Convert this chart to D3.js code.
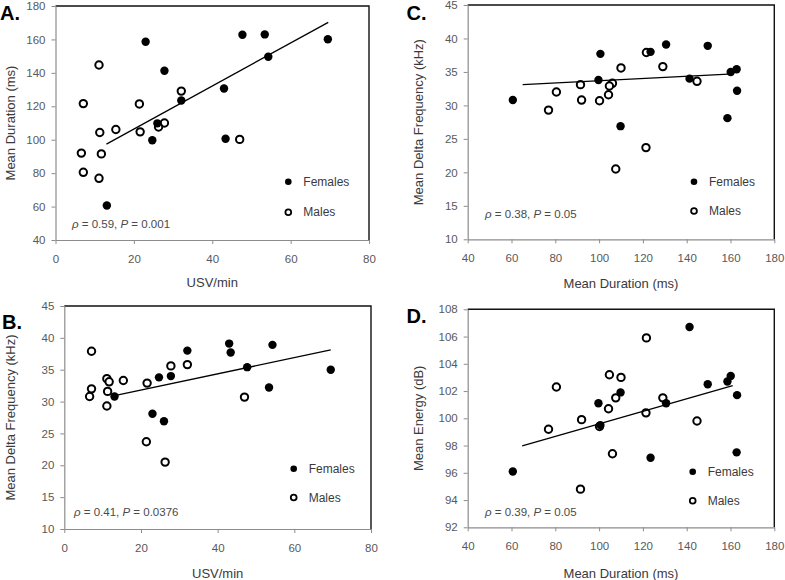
<!DOCTYPE html>
<html>
<head>
<meta charset="utf-8">
<script src="https://cdn.jsdelivr.net/npm/d3@7"></script>
<style>
  body { margin: 0; background: #fff; }
  svg { display: block; font-family: Arial, "Liberation Sans", sans-serif; }
</style>
</head>
<body>
<svg id="chart" width="785" height="580"></svg>
<script>
// ---- Data (one entry per animal) ----
const femaleUSV       = [23.0, 27.8, 32.1, 26.0, 24.7, 13.1, 43.0, 43.4, 47.7, 53.4, 54.3, 69.5];
const femaleDuration  = [158.6, 141.3, 123.5, 109.8, 99.7, 60.6, 130.6, 100.6, 162.8, 163.0, 149.6, 160.1];
const femaleDeltaFreq = [28.1, 34.0, 38.0, 26.9, 33.8, 30.8, 39.1, 37.7, 35.4, 32.2, 38.9, 35.0];
const femaleEnergy    = [102.7, 106.7, 97.1, 101.9, 101.1, 96.1, 101.1, 99.5, 97.5, 101.7, 102.5, 103.1];

const maleUSV       = [11.1, 7.1, 21.4, 32.1, 15.4, 11.3, 21.6, 27.8, 26.3, 6.6, 11.7, 7.1, 11.1, 47.0];
const maleDuration  = [144.7, 121.6, 121.4, 129.1, 106.1, 104.3, 104.7, 110.0, 107.6, 92.0, 91.5, 80.5, 76.9, 100.2];
const maleDeltaFreq = [33.6, 37.9, 23.7, 35.8, 33.3, 31.6, 32.9, 35.6, 20.5, 30.8, 33.1, 32.0, 29.3, 30.7];
const maleEnergy    = [99.8, 105.9, 100.4, 101.5, 97.4, 100.7, 103.2, 103.0, 101.5, 99.9, 94.8, 102.3, 99.2, 99.4];

// trend line end points [x0, x1], [y0, y1]
const trendAx = [13.0, 69.6],  trendAy = [97.4, 170.2];
const trendBx = [12.8, 69.5],  trendBy = [30.9, 38.1];
const trendCx = [65.1, 161.3], trendCy = [33.1, 34.7];
const trendDx = [64.9, 161.0], trendDy = [97.97, 102.4];

const ticksUSV      = [0, 20, 40, 60, 80];
const ticksDuration = [40, 60, 80, 100, 120, 140, 160, 180];
const ticksDurDom   = [40, 180];
const ticksDeltaF   = [10, 15, 20, 25, 30, 35, 40, 45];
const ticksEnergy   = [92, 94, 96, 98, 100, 102, 104, 106, 108];

const statsText = ["0.59", "0.001", "0.41", "0.0376", "0.38", "0.05", "0.39", "0.05"];
const legendLabels = ["Females", "Males"];

// ---- Panels ----
const panels = [
  { letter: "A.", lx: 0, ly: 20,
    box: { l: 55.5, r: 369, t: 6, b: 240 },
    xs: [femaleUSV, maleUSV], ys: [femaleDuration, maleDuration],
    xDom: [0, 80], yDom: [40, 180], xTicks: ticksUSV, yTicks: [40,60,80,100,120,140,160,180],
    xTitle: "USV/min", yTitle: "Mean Duration (ms)", xTitleY: 282, yTitleX: 10.5,
    tx: trendAx, ty: trendAy, rho: statsText[0], p: statsText[1], annX: 72, annY: 223.5,
    legX: 288.3, legY: [181.7, 212.3] },
  { letter: "B.", lx: 2, ly: 329,
    box: { l: 64.3, r: 371, t: 306, b: 529 },
    xs: [femaleUSV, maleUSV], ys: [femaleDeltaFreq, maleDeltaFreq],
    xDom: [0, 80], yDom: [10, 45], xTicks: ticksUSV, yTicks: ticksDeltaF,
    xTitle: "USV/min", yTitle: "Mean Delta Frequency (kHz)", xTitleY: 573, yTitleX: 10.5,
    tx: trendBx, ty: trendBy, rho: statsText[2], p: statsText[3], annX: 74, annY: 512,
    legX: 293.7, legY: [468.7, 497.5] },
  { letter: "C.", lx: 406.5, ly: 20,
    box: { l: 467.7, r: 774.3, t: 5, b: 239.3 },
    xs: [femaleDuration, maleDuration], ys: [femaleDeltaFreq, maleDeltaFreq],
    xDom: ticksDurDom, yDom: [10, 45], xTicks: ticksDuration, yTicks: ticksDeltaF,
    xTitle: "Mean Duration (ms)", yTitle: "Mean Delta Frequency (kHz)", xTitleY: 283.5, yTitleX: 418.5,
    tx: trendCx, ty: trendCy, rho: statsText[4], p: statsText[5], annX: 485, annY: 213.5,
    legX: 694, legY: [181.7, 211] },
  { letter: "D.", lx: 406.5, ly: 323,
    box: { l: 467.7, r: 774.3, t: 309.3, b: 527.3 },
    xs: [femaleDuration, maleDuration], ys: [femaleEnergy, maleEnergy],
    xDom: ticksDurDom, yDom: [92, 108], xTicks: ticksDuration, yTicks: ticksEnergy,
    xTitle: "Mean Duration (ms)", yTitle: "Mean Energy (dB)", xTitleY: 573.5, yTitleX: 418.5,
    tx: trendDx, ty: trendDy, rho: statsText[6], p: statsText[7], annX: 485, annY: 512,
    legX: 692.7, legY: [471.7, 500.7] }
];

const svg = d3.select("#chart");
const tickColor = "#595959", titleColor = "#3a3a3a", axisColor = "#8c8c8c";

panels.forEach(p => {
  const g = svg.append("g");
  const x = d3.scaleLinear().domain(p.xDom).range([p.box.l, p.box.r]);
  const y = d3.scaleLinear().domain(p.yDom).range([p.box.b, p.box.t]);

  // frame: top & right black border
  g.append("path")
    .attr("d", `M${p.box.l},${p.box.t}H${p.box.r}V${p.box.b}`)
    .attr("fill", "none").attr("stroke", "#111").attr("stroke-width", 1.4);

  // axes
  const ax = g.append("g").attr("transform", `translate(0,${p.box.b})`)
    .call(d3.axisBottom(x).tickValues(p.xTicks).tickSize(4).tickSizeOuter(0).tickPadding(11).tickFormat(d3.format("d")));
  const ay = g.append("g").attr("transform", `translate(${p.box.l},0)`)
    .call(d3.axisLeft(y).tickValues(p.yTicks).tickSize(4).tickSizeOuter(0).tickPadding(6).tickFormat(d3.format("d")));
  [ax, ay].forEach(a => {
    a.select(".domain").attr("stroke", axisColor).attr("stroke-width", 1.2);
    a.selectAll(".tick line").attr("stroke", axisColor);
    a.selectAll(".tick text").attr("fill", tickColor).attr("font-size", 11.5)
      .attr("font-family", "Arial, 'Liberation Sans', sans-serif");
  });

  // titles
  g.append("text").attr("x", (p.box.l + p.box.r) / 2).attr("y", p.xTitleY)
    .attr("text-anchor", "middle").attr("dominant-baseline", "central")
    .attr("font-size", 13).attr("fill", titleColor).text(p.xTitle);
  g.append("text")
    .attr("transform", `translate(${p.yTitleX},${(p.box.t + p.box.b) / 2}) rotate(-90)`)
    .attr("text-anchor", "middle").attr("dominant-baseline", "central")
    .attr("font-size", 13).attr("fill", titleColor).text(p.yTitle);

  // panel letter
  g.append("text").attr("x", p.lx).attr("y", p.ly)
    .attr("font-size", 20).attr("font-weight", "bold").attr("fill", "#000").text(p.letter);

  // points: females filled, males open
  const fem = p.xs[0].map((v, i) => [v, p.ys[0][i]]);
  const mal = p.xs[1].map((v, i) => [v, p.ys[1][i]]);
  g.append("g").selectAll("circle").data(mal).join("circle")
    .attr("cx", d => x(d[0])).attr("cy", d => y(d[1])).attr("r", 3.7)
    .attr("fill", "#fff").attr("stroke", "#000").attr("stroke-width", 2);
  g.append("g").selectAll("circle").data(fem).join("circle")
    .attr("cx", d => x(d[0])).attr("cy", d => y(d[1])).attr("r", 4.2)
    .attr("fill", "#000");

  // trend line
  g.append("line")
    .attr("x1", x(p.tx[0])).attr("y1", y(p.ty[0]))
    .attr("x2", x(p.tx[1])).attr("y2", y(p.ty[1]))
    .attr("stroke", "#000").attr("stroke-width", 1.3);

  // legend
  g.append("circle").attr("cx", p.legX).attr("cy", p.legY[0]).attr("r", 3.3).attr("fill", "#000");
  g.append("circle").attr("cx", p.legX).attr("cy", p.legY[1]).attr("r", 2.9)
    .attr("fill", "#fff").attr("stroke", "#000").attr("stroke-width", 1.8);
  legendLabels.forEach((lab, i) => {
    g.append("text").attr("x", p.legX + 15).attr("y", p.legY[i])
      .attr("dominant-baseline", "central").attr("font-size", 12)
      .attr("fill", titleColor).text(lab);
  });

  // statistics annotation
  const t = g.append("text").attr("x", p.annX).attr("y", p.annY)
    .attr("dominant-baseline", "central").attr("font-size", 11.5).attr("fill", "#4a4a4a");
  t.append("tspan").attr("font-style", "italic").text("ρ");
  t.append("tspan").text(" = " + p.rho + ", ");
  t.append("tspan").attr("font-style", "italic").text("P");
  t.append("tspan").text(" = " + p.p);
});
</script>
</body>
</html>
